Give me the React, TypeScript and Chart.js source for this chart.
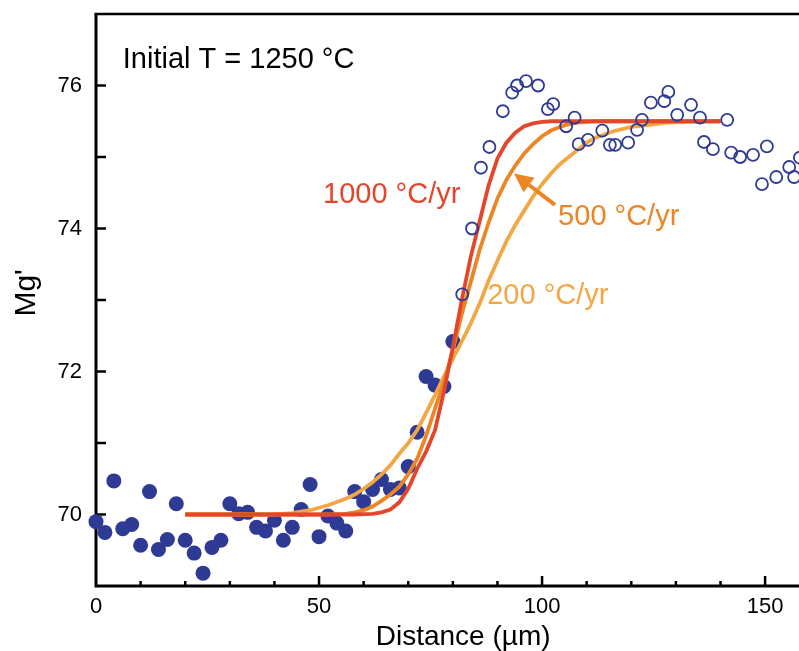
import React, { useEffect, useRef } from "react";
import { Chart, registerables } from "chart.js";

Chart.register(...registerables);

// Measured profile: filled symbols (core side)
const filledX = [0, 2, 4, 6, 8, 10, 12, 14, 16, 18, 20, 22, 24, 26, 28, 30, 32, 34, 36, 38, 40, 42, 44, 46, 48, 50, 52, 54, 56, 58, 60, 62, 64, 66, 68, 70, 72, 74, 76, 78, 80];
const filledMg = [69.9, 69.75, 70.47, 69.8, 69.86, 69.57, 70.32, 69.51, 69.65, 70.15, 69.64, 69.46, 69.18, 69.54, 69.64, 70.15, 70.01, 70.03, 69.82, 69.77, 69.92, 69.64, 69.82, 70.07, 70.42, 69.69, 69.98, 69.88, 69.77, 70.32, 70.18, 70.35, 70.49, 70.35, 70.37, 70.67, 71.15, 71.93, 71.81, 71.79, 72.42];

// Measured profile: open symbols (rim side)
const openX = [82.1, 84.3, 86.3, 88.2, 91.2, 93.3, 94.4, 96.4, 99.1, 101.3, 102.5, 105.4, 107.3, 108.2, 110.3, 113.5, 115.2, 116.4, 119.3, 121.3, 122.4, 124.4, 127.4, 128.3, 130.3, 133.4, 135.4, 136.3, 138.3, 141.5, 142.4, 144.4, 147.3, 149.3, 150.4, 152.5, 155.4, 156.5, 157.8];
const openMg = [73.08, 74.0, 74.85, 75.14, 75.64, 75.9, 76.0, 76.06, 76.0, 75.67, 75.74, 75.43, 75.55, 75.18, 75.24, 75.37, 75.17, 75.17, 75.2, 75.38, 75.52, 75.76, 75.78, 75.91, 75.59, 75.73, 75.55, 75.21, 75.11, 75.52, 75.06, 75.0, 75.03, 74.62, 75.15, 74.72, 74.86, 74.72, 74.99];

// Diffusion model curves
const curveX = [20, 30, 40, 44, 48, 52, 56, 58, 60, 62, 64, 66, 68, 70, 72, 74, 76, 78, 80, 82, 84, 86, 88, 90, 92, 94, 96, 98, 100, 102, 104, 106, 108, 110, 112, 116, 120, 124, 128, 132, 136, 140];
const rate1000 = [70, 70, 70, 70, 70, 70, 70, 70, 70.005, 70.01, 70.03, 70.07, 70.17, 70.36, 70.64, 70.88, 71.18, 71.72, 72.34, 73.0, 73.6, 74.1, 74.6, 74.98, 75.2, 75.34, 75.43, 75.47, 75.49, 75.5, 75.5, 75.5, 75.5, 75.5, 75.5, 75.5, 75.5, 75.5, 75.5, 75.5, 75.5, 75.5];
const rate500 = [70, 70, 70, 70, 70, 70, 70.01, 70.03, 70.06, 70.11, 70.19, 70.28, 70.39, 70.56, 70.78, 71.1, 71.48, 71.85, 72.3, 72.8, 73.25, 73.7, 74.08, 74.42, 74.68, 74.88, 75.05, 75.18, 75.29, 75.37, 75.42, 75.46, 75.48, 75.49, 75.5, 75.5, 75.5, 75.5, 75.5, 75.5, 75.5, 75.5];
const rate200 = [70, 70, 70, 70.02, 70.06, 70.13, 70.22, 70.28, 70.36, 70.45, 70.56, 70.69, 70.85, 71.0, 71.18, 71.42, 71.67, 71.93, 72.18, 72.42, 72.67, 72.95, 73.27, 73.55, 73.82, 74.05, 74.25, 74.45, 74.62, 74.77, 74.9, 75.0, 75.1, 75.2, 75.27, 75.36, 75.42, 75.45, 75.48, 75.49, 75.5, 75.5];

const xTickLabels = [0, 50, 100, 150];
const yTickLabels = [70, 72, 74, 76];
const xMinorTicks = [10, 20, 30, 40, 60, 70, 80, 90, 110, 120, 130, 140];
const yMinorTicks = [70, 71, 72, 73, 74, 75, 76];

const X_MIN = 0;
const X_MAX = 157.6;
const Y_MIN = 69;
const Y_MAX = 77;

const BLUE = "#2f3a94";
const RED = "#e5452a";
const ORANGE = "#ec8524";
const LIGHT = "#f3a744";
const FONT = "'Liberation Sans', Arial, sans-serif";

const toPts = (xs: number[], ys: number[]) => xs.map((x, i) => ({ x, y: ys[i] }));

const zeroPad = (s: any) => {
  s.paddingTop = 0;
  s.paddingBottom = 0;
  s.paddingLeft = 0;
  s.paddingRight = 0;
};

const decorPlugin = {
  id: "decor",
  beforeDatasetsDraw(chart: any) {
    const { ctx, chartArea, scales } = chart;
    const xs = scales.x;
    const ys = scales.y;
    ctx.save();
    ctx.strokeStyle = "#000";
    ctx.lineCap = "butt";
    ctx.lineWidth = 3;
    ctx.beginPath();
    ctx.moveTo(chartArea.left, chartArea.top);
    ctx.lineTo(chartArea.left, chartArea.bottom);
    ctx.lineTo(chartArea.right, chartArea.bottom);
    ctx.stroke();
    ctx.lineWidth = 2.5;
    ctx.beginPath();
    ctx.moveTo(chartArea.left - 1.5, chartArea.top);
    ctx.lineTo(chartArea.right, chartArea.top);
    ctx.stroke();
    ctx.lineWidth = 2.5;
    yMinorTicks.forEach((v) => {
      const py = ys.getPixelForValue(v);
      ctx.beginPath();
      ctx.moveTo(chartArea.left, py);
      ctx.lineTo(chartArea.left + 10, py);
      ctx.stroke();
    });
    xMinorTicks.forEach((v) => {
      const px = xs.getPixelForValue(v);
      ctx.beginPath();
      ctx.moveTo(px, chartArea.bottom);
      ctx.lineTo(px, chartArea.bottom - 5);
      ctx.stroke();
    });
    xTickLabels.forEach((v) => {
      if (v === X_MIN) return;
      const px = xs.getPixelForValue(v);
      ctx.beginPath();
      ctx.moveTo(px, chartArea.bottom);
      ctx.lineTo(px, chartArea.bottom - 10);
      ctx.stroke();
    });
    ctx.restore();
  },
  afterDatasetsDraw(chart: any) {
    const { ctx, scales } = chart;
    const xs = scales.x;
    const ys = scales.y;
    const P = (x: number, y: number) => [xs.getPixelForValue(x), ys.getPixelForValue(y)];
    ctx.save();
    ctx.textBaseline = "alphabetic";
    ctx.textAlign = "left";
    ctx.font = `29px ${FONT}`;
    ctx.fillStyle = "#000";
    let [tx, ty] = P(6.0, 76.25);
    ctx.fillText("Initial T = 1250 \u00B0C", tx, ty);
    ctx.fillStyle = RED;
    [tx, ty] = P(50.9, 74.35);
    ctx.fillText("1000 \u00B0C/yr", tx, ty);
    ctx.fillStyle = ORANGE;
    [tx, ty] = P(103.6, 74.05);
    ctx.fillText("500 \u00B0C/yr", tx, ty);
    ctx.fillStyle = LIGHT;
    [tx, ty] = P(87.7, 72.95);
    ctx.fillText("200 \u00B0C/yr", tx, ty);
    const [ax0, ay0] = P(102.9, 74.33);
    const [ax1, ay1] = P(93.7, 74.77);
    const ang = Math.atan2(ay1 - ay0, ax1 - ax0);
    const headLen = 19;
    const headW = 9;
    const bx = ax1 - headLen * Math.cos(ang);
    const by = ay1 - headLen * Math.sin(ang);
    ctx.strokeStyle = ORANGE;
    ctx.fillStyle = ORANGE;
    ctx.lineWidth = 4;
    ctx.beginPath();
    ctx.moveTo(ax0, ay0);
    ctx.lineTo(bx, by);
    ctx.stroke();
    ctx.beginPath();
    ctx.moveTo(ax1, ay1);
    ctx.lineTo(bx + headW * Math.sin(ang), by - headW * Math.cos(ang));
    ctx.lineTo(bx - headW * Math.sin(ang), by + headW * Math.cos(ang));
    ctx.closePath();
    ctx.fill();
    ctx.fillStyle = "#000";
    ctx.font = `28px ${FONT}`;
    ctx.textAlign = "center";
    const [dx] = P(82.3, Y_MIN);
    ctx.fillText("Distance (\u00B5m)", dx, 645);
    const [, my] = P(X_MIN, 73.1);
    ctx.translate(35, my);
    ctx.rotate(-Math.PI / 2);
    ctx.font = `30px ${FONT}`;
    ctx.fillText("Mg'", 0, 0);
    ctx.restore();
  },
};

export default function App() {
  const ref = useRef<HTMLCanvasElement | null>(null);
  useEffect(() => {
    if (!ref.current) return;
    const chart = new Chart(ref.current, {
      type: "scatter",
      data: {
        datasets: [
          {
            label: "open",
            data: toPts(openX, openMg),
            pointStyle: "circle",
            pointRadius: 6,
            pointBackgroundColor: "rgba(255,255,255,0)",
            pointBorderColor: BLUE,
            pointBorderWidth: 1.8,
            showLine: false,
            order: 0,
          },
          {
            label: "1000",
            data: toPts(curveX, rate1000),
            showLine: true,
            borderColor: RED,
            borderWidth: 3.8,
            pointRadius: 0,
            tension: 0,
            order: 1,
          },
          {
            label: "500",
            data: toPts(curveX, rate500),
            showLine: true,
            borderColor: ORANGE,
            borderWidth: 3.8,
            pointRadius: 0,
            tension: 0,
            order: 2,
          },
          {
            label: "200",
            data: toPts(curveX, rate200),
            showLine: true,
            borderColor: LIGHT,
            borderWidth: 3.8,
            pointRadius: 0,
            tension: 0,
            order: 3,
          },
          {
            label: "filled",
            data: toPts(filledX, filledMg),
            pointStyle: "circle",
            pointRadius: 7.5,
            pointBackgroundColor: BLUE,
            pointBorderColor: BLUE,
            pointBorderWidth: 0,
            showLine: false,
            clip: false as any,
            order: 4,
          },
        ],
      },
      options: {
        responsive: false,
        animation: false,
        devicePixelRatio: 1,
        layout: { autoPadding: false, padding: { top: 14, right: 0, left: 0, bottom: 0 } },
        plugins: { legend: { display: false }, tooltip: { enabled: false }, title: { display: false } },
        scales: {
          x: {
            type: "linear",
            min: X_MIN,
            max: X_MAX,
            grid: { display: false, drawTicks: false },
            border: { display: false },
            afterBuildTicks: (s: any) => {
              s.ticks = xTickLabels.map((v) => ({ value: v }));
            },
            afterFit: (s: any) => {
              s.height = 65;
              zeroPad(s);
            },
            ticks: {
              color: "#000",
              font: { family: FONT, size: 22 },
              padding: 8,
              maxRotation: 0,
              autoSkip: false,
            },
          },
          y: {
            type: "linear",
            min: Y_MIN,
            max: Y_MAX,
            grid: { display: false, drawTicks: false },
            border: { display: false },
            afterBuildTicks: (s: any) => {
              s.ticks = yTickLabels.map((v) => ({ value: v }));
            },
            afterFit: (s: any) => {
              s.width = 96;
              zeroPad(s);
            },
            ticks: {
              color: "#000",
              font: { family: FONT, size: 22 },
              padding: 14,
              autoSkip: false,
            },
          },
        },
      } as any,
      plugins: [decorPlugin],
    });
    return () => chart.destroy();
  }, []);
  return (
    <div style={{ position: "absolute", left: 0, top: 0, width: 799, height: 651, background: "#fff" }}>
      <canvas ref={ref} width={799} height={651} style={{ display: "block" }} />
    </div>
  );
}
